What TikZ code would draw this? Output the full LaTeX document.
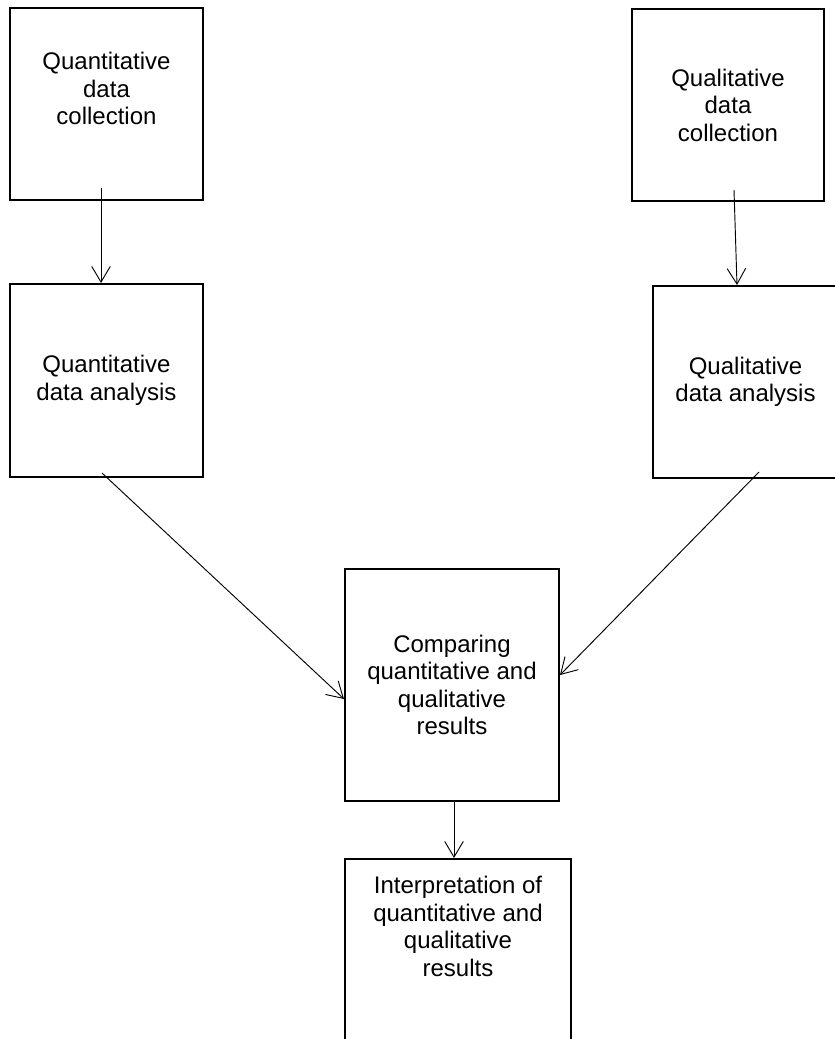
\documentclass[tikz,border=0pt]{standalone}
\usepackage{fontspec}
\setmainfont{Liberation Sans}
\usetikzlibrary{arrows.meta,positioning,calc}

\begin{document}
\begin{tikzpicture}[
  x=0.75pt, y=-0.75pt,
  every node/.style={font=\fontsize{18}{20.6}\selectfont},
  box/.style={rectangle, draw, line width=1.5pt, align=center, inner sep=0pt},
  txt/.style={align=center, inner sep=0pt, anchor=north},
  arr/.style={-{Straight Barb[length=11.8pt, width=14pt]}, line width=0.7pt},
]
\clip (0,0) rectangle (835,1039);

% collection
\node[box, minimum width=144.75pt, minimum height=144pt] (qncol) at (106.5,104) {};
\node[txt] (qncoltxt) at ($(qncol.north)+(0,45)$) {Quantitative\\data\\collection};
\node[box, minimum width=144pt, minimum height=144pt] (qlcol) at (728,105)
  {Qualitative\\data\\collection};

% analysis
\node[box, minimum width=144.75pt, minimum height=144.75pt] (qnan) at (106.5,380.5)
  {Quantitative\\data analysis};
\node[box, minimum width=138.75pt, minimum height=144pt] (qlan) at (745.5,382)
  {Qualitative\\data analysis};

% merging
\node[box, minimum width=160.5pt, minimum height=174pt] (cmp) at (452,685)
  {Comparing\\quantitative and\\qualitative\\results};
\node[box, minimum width=169.5pt, minimum height=158.25pt] (interp) at (458,964.5) {};
\node[txt] (interptxt) at ($(interp.north)+(0,18)$)
  {Interpretation of\\quantitative and\\qualitative\\results};

\draw[arr] ($(qncol.south)+(-5.5,-13)$) -- ($(qnan.north)+(-5.5,0)$);
\draw[arr] ($(qlcol.south)+(6,-12)$) -- ($(qlan.north)+(-8.5,0)$);
\draw[arr] ($(qnan.south)+(-4.5,-5)$) -- ($(cmp.west)+(0,14)$);
\draw[arr] ($(qlan.south)+(13.5,-7)$) -- ($(cmp.east)+(0,-10)$);
\draw[arr] ($(cmp.south)+(2,0)$) -- ($(interp.north)+(-4,0)$);

\end{tikzpicture}
\end{document}
